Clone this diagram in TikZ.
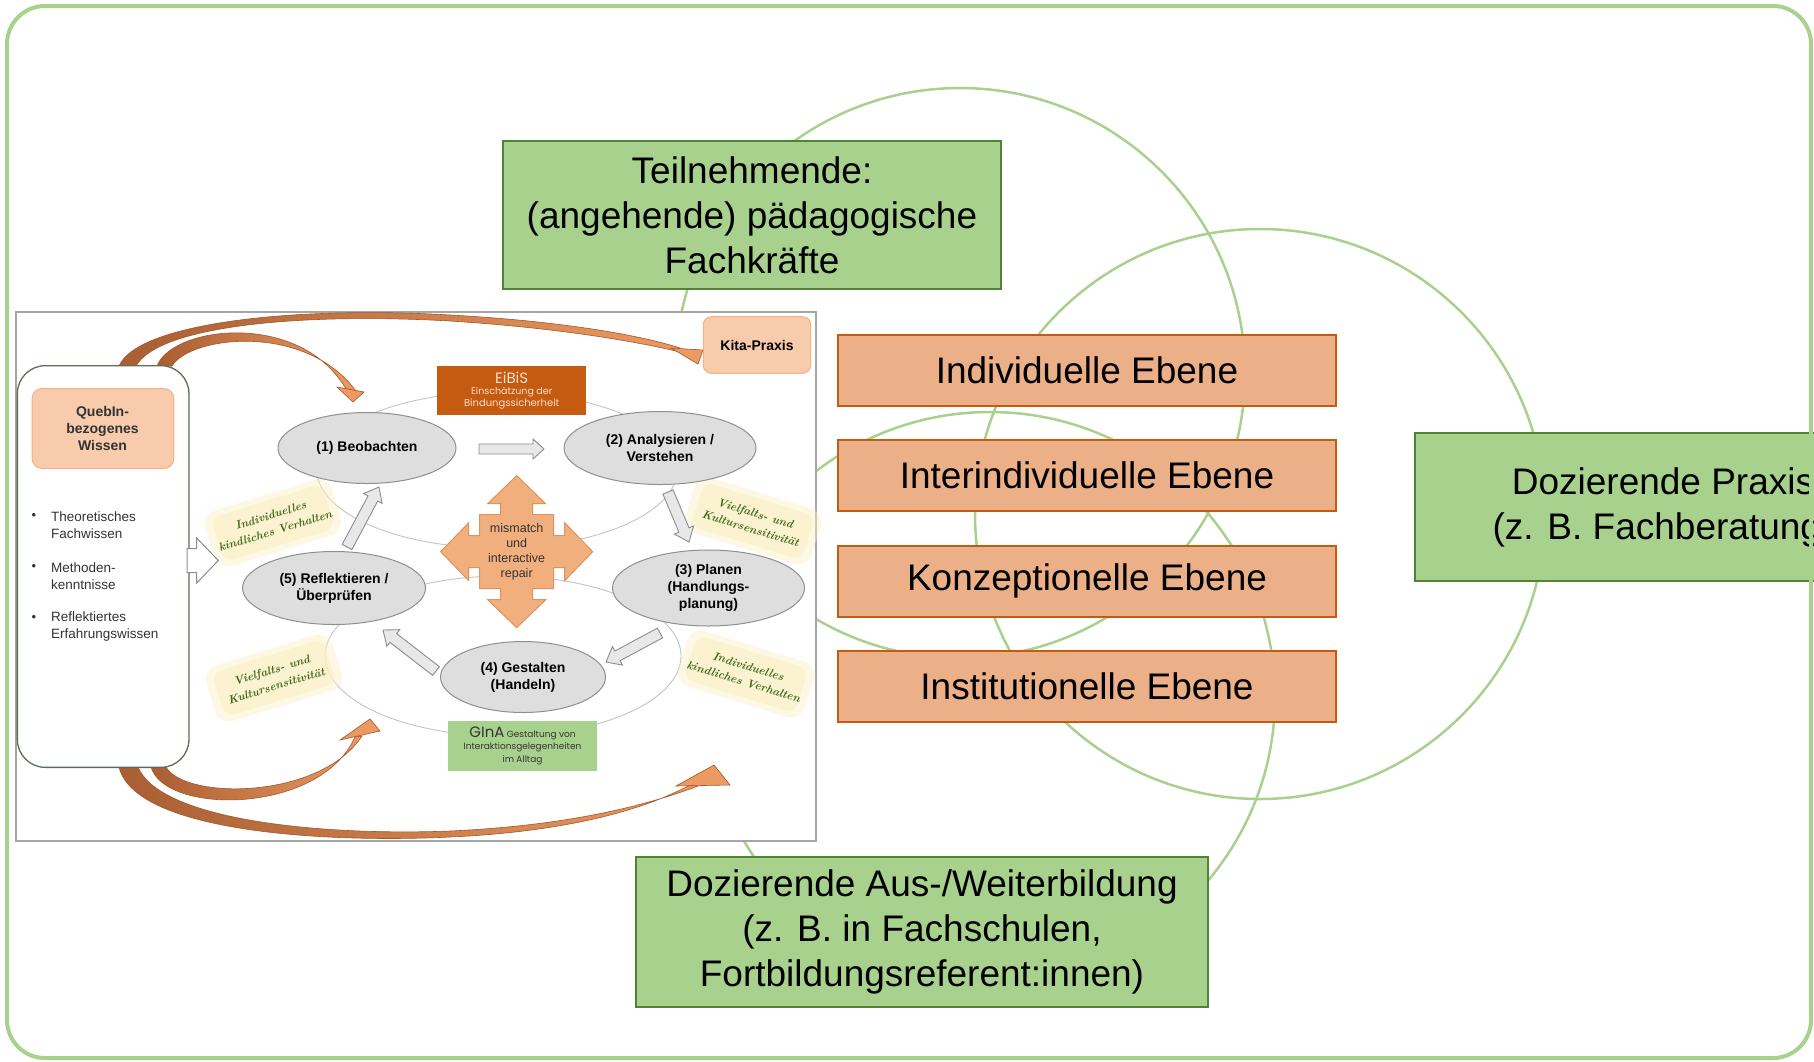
\documentclass[tikz,border=0pt]{standalone}
\usepackage{fontspec}
\newfontfamily\arial{Liberation Sans}
\newfontfamily\geo{Poppins}
\usetikzlibrary{shapes.geometric}
\definecolor{lgreen}{HTML}{A9D18E}
\definecolor{dgreen}{HTML}{548235}
\definecolor{lorange}{HTML}{EBB087}
\definecolor{dorange}{HTML}{C55A11}
\definecolor{peach}{HTML}{F8CBAD}
\definecolor{peachline}{HTML}{F4B183}
\definecolor{crossfill}{HTML}{F2AF7E}
\definecolor{crossline}{HTML}{DE935C}
\definecolor{ellfill}{HTML}{DEDEDE}
\definecolor{ellline}{HTML}{8F8F8F}
\definecolor{arrfill}{HTML}{E8E8E8}
\definecolor{arrline}{HTML}{8C8C8C}
\definecolor{thinline}{HTML}{C4C4C4}
\definecolor{panelline}{HTML}{A6A6A6}
\definecolor{brownA}{HTML}{A95E33}
\definecolor{orangeA}{HTML}{EC9A62}
\definecolor{curveline}{HTML}{A55629}
\definecolor{notetext}{HTML}{3E6B22}
\definecolor{notefill}{HTML}{FBEFC2}
\definecolor{qline}{HTML}{5E6E55}
\definecolor{eibistext}{HTML}{FBE0CC}
\definecolor{txtgray}{HTML}{333333}

\newcommand\blkarrow[8]{%
 \pgfmathsetmacro\blkang{atan2(-(#4-#2),(#3-#1))}%
 \pgfmathsetmacro\blklen{veclen((#3-#1),(#4-#2))}%
 \begin{scope}[shift={(#1,#2)},rotate=\blkang]
 \draw[#8] (0,#5) -- ({\blklen-#7},#5) -- ({\blklen-#7},#6) -- (\blklen,0) -- ({\blklen-#7},-#6) -- ({\blklen-#7},-#5) -- (0,-#5) -- cycle;
 \end{scope}}

\newcommand\noteglow[3]{%
 \begin{scope}[shift={(#1,#2)},rotate=#3]
 \fill[notefill, opacity=0.45, rounded corners=14pt] (-66,-29) rectangle (66,29);
 \fill[notefill, opacity=0.6, rounded corners=10pt] (-58,-23) rectangle (58,23);
 \end{scope}}

\tikzset{
 venn/.style={draw=lgreen, line width=2.5pt},
 gbox/.style={draw=dgreen, line width=2.5pt, fill=lgreen, align=center, inner sep=0pt, font=\arial\fontsize{37}{45}\selectfont},
 obox/.style={draw=dorange, line width=2pt, fill=lorange, minimum width=498pt, minimum height=71pt, inner sep=0pt, font=\arial\fontsize{37}{45}\selectfont},
 ell/.style={ellipse, draw=ellline, fill=ellfill, line width=1pt, inner sep=0pt, align=center, font=\arial\bfseries\fontsize{14}{17}\selectfont},
 grayarr/.style={draw=arrline, fill=arrfill, line width=0.9pt},
 whitearr/.style={draw=arrline, fill=white, line width=1pt},
 bul/.style={inner sep=0pt, font=\arial\fontsize{13}{17}\selectfont, text=txtgray},
 btxt/.style={anchor=west, align=left, inner sep=0pt, font=\arial\fontsize{13.5}{17.3}\selectfont, text=txtgray},
 note/.style={inner sep=0pt, align=center, text=notetext, font=\fontsize{11.5}{16}\selectfont\itshape\bfseries},
 curvearr/.style={left color=brownA, right color=orangeA, draw=curveline, line width=0.6pt},
 curvehead/.style={fill=orangeA, draw=curveline, line width=0.6pt},
}

\begin{document}
\begin{tikzpicture}[x=1pt,y=-1pt]
\useasboundingbox (0,0) rectangle (1814,1061);
\clip (0,0) rectangle (1814,1061);

% Venn circles
\draw[venn] (960,373) circle[radius=285];
\draw[venn] (1260,514) circle[radius=285];
\draw[venn] (990,697) circle[radius=285];

% embedded panel
\node[draw=panelline, line width=1.8pt, fill=white, minimum width=800pt, minimum height=529pt, inner sep=0pt, anchor=north west] (panel) at (15,311) {};

% thin background ellipses
\draw[thinline, line width=0.9pt] (497,470) ellipse [x radius=180, y radius=78];
\draw[thinline, line width=0.9pt] (503,656) ellipse [x radius=178, y radius=80];

% orange curved arrows
\shadedraw[curvearr] (119,366) .. controls (138,322) and (300,306) .. (450,315) .. controls (560,321) and (640,335) .. (680,348)
  -- (684,353) .. controls (640,342) and (560,328) .. (450,321) .. controls (310,313) and (160,324) .. (136,366) -- cycle;
\filldraw[curvehead] (671,348) -- (703,350) -- (698,364) -- cycle;

\shadedraw[curvearr] (157,366) .. controls (172,326) and (300,310) .. (346,389)
  -- (356,391) .. controls (305,322) and (190,336) .. (172,366) -- cycle;
\filldraw[curvehead] (337,387) -- (364,392) -- (353,402) -- cycle;

\shadedraw[curvearr] (119,767) .. controls (135,833) and (330,843) .. (450,837) .. controls (560,832) and (640,812) .. (690,785)
  -- (698,786) .. controls (640,808) and (560,826) .. (450,831) .. controls (320,836) and (160,820) .. (138,767) -- cycle;
\filldraw[curvehead] (676,786) -- (730,785) -- (714,765) -- cycle;

\shadedraw[curvearr] (151,767) .. controls (165,815) and (320,815) .. (355,737)
  -- (362,736) .. controls (320,800) and (185,800) .. (166,767) -- cycle;
\filldraw[curvehead] (340,740) -- (380,731) -- (370,719) -- cycle;

% sticky notes
\noteglow{273}{523}{17}
\node[note, rotate=17] (n1) at (273,523) {Individuelles\\kindliches Verhalten};
\noteglow{753}{521}{-17}
\node[note, rotate=-17] (n2) at (753,521) {Vielfalts- und\\Kultursensitivität};
\noteglow{274}{678}{17}
\node[note, rotate=17] (n3) at (274,678) {Vielfalts- und\\Kultursensitivität};
\noteglow{746}{674}{-17}
\node[note, rotate=-17] (n4) at (746,674) {Individuelles\\kindliches Verhalten};

% QuebIn box
\node[draw=qline, line width=1.3pt, fill=white, rounded corners=28pt, minimum width=171.6pt, minimum height=401.7pt, inner sep=0pt, anchor=north west] (qouter) at (16.7,365) {};
\node[fill=peach, draw=peachline, line width=1pt, rounded corners=10pt, minimum width=141.6pt, minimum height=80pt, inner sep=0pt, anchor=north west] (qinner) at (31.7,388) {};
\node[align=center, inner sep=0pt, font=\arial\bfseries\fontsize{14}{17}\selectfont, text=txtgray] (qtext) at (102.5,428.5) {QuebIn-\\bezogenes\\Wissen};
\node[bul] (b1) at (34,516.7) {•};
\node[btxt] (t1) at (51,525.3) {Theoretisches\\Fachwissen};
\node[bul] (b2) at (34,567.7) {•};
\node[btxt] (t2) at (51,576.3) {Methoden-\\kenntnisse};
\node[bul] (b3) at (34,618) {•};
\node[btxt] (t3) at (51,626.8) {Reflektiertes\\Erfahrungswissen};
\blkarrow{187}{560.5}{218.3}{560.5}{12}{22.5}{21.6}{whitearr}

% cross arrow
\begin{scope}[shift={(516.7,551.7)}]
\draw[fill=crossfill, draw=crossline, line width=1pt] (0,-76) -- (29,-48) -- (16,-48) -- (16,-37) -- (37,-37) -- (37,-16) -- (48,-16) -- (48,-29) -- (76,0) -- (48,29) -- (48,16) -- (37,16) -- (37,37) -- (16,37) -- (16,48) -- (29,48) -- (0,76) -- (-29,48) -- (-16,48) -- (-16,37) -- (-37,37) -- (-37,16) -- (-48,16) -- (-48,29) -- (-76,0) -- (-48,-29) -- (-48,-16) -- (-37,-16) -- (-37,-37) -- (-16,-37) -- (-16,-48) -- (-29,-48) -- cycle;
\end{scope}
\node[align=center, inner sep=0pt, font=\arial\fontsize{12.5}{15}\selectfont, text=txtgray] (mis) at (516.7,551.7) {mismatch\\und\\interactive\\repair};

% ellipses
\node[ell, minimum width=178pt, minimum height=71pt] (e1) at (367,448) {(1) Beobachten};
\node[ell, minimum width=192pt, minimum height=73pt] (e2) at (660,448) {(2) Analysieren /\\Verstehen};
\node[ell, minimum width=192pt, minimum height=76pt] (e3) at (708.5,588) {(3) Planen\\(Handlungs-\\planung)};
\node[ell, minimum width=165pt, minimum height=71pt] (e4) at (523,677) {(4) Gestalten\\(Handeln)};
\node[ell, minimum width=183pt, minimum height=73pt] (e5) at (334,588) {(5) Reflektieren /\\Überprüfen};

% gray block arrows
\blkarrow{479}{449}{544}{449}{5}{10}{11}{grayarr}
\blkarrow{668}{492}{689}{542}{5.5}{10.5}{13}{grayarr}
\blkarrow{660}{633}{606}{662}{5.5}{10.5}{13}{grayarr}
\blkarrow{436}{671}{383}{630}{5.5}{10.5}{13}{grayarr}
\blkarrow{347}{547}{379}{487}{5.5}{10.5}{13}{grayarr}

% EiBiS, GInA, Kita
\node[fill=dorange, minimum width=148.7pt, minimum height=49.3pt, inner sep=0pt, align=center, text=eibistext, font=\geo] (eibis) at (511.7,390.3) {\fontsize{15}{15}\selectfont EiBiS\\[-1pt]\fontsize{9.5}{12.3}\selectfont Einschätzung der\\Bindungssicherheit};
\node[fill=lgreen, minimum width=149.6pt, minimum height=49.7pt, inner sep=0pt, align=center, text=txtgray, font=\geo\fontsize{9}{12.5}\selectfont] (gina) at (522.5,745.8) {{\fontsize{15}{15}\selectfont GInA} Gestaltung von\\Interaktionsgelegenheiten\\im Alltag};
\node[fill=peach, draw=peachline, line width=1pt, rounded corners=8pt, minimum width=107.4pt, minimum height=56.6pt, inner sep=0pt, font=\arial\bfseries\fontsize{14}{17}\selectfont] (kita) at (757,345) {Kita-Praxis};

% main boxes
\node[gbox, minimum width=498pt, minimum height=148pt] (teil) at (752,215) {Teilnehmende:\\(angehende) pädagogische\\Fachkräfte};
\node[obox] (ind) at (1087,370) {Individuelle Ebene};
\node[obox] (inter) at (1087,475) {Interindividuelle Ebene};
\node[obox] (konz) at (1087,581) {Konzeptionelle Ebene};
\node[obox] (inst) at (1087,686.5) {Institutionelle Ebene};
\node[gbox, minimum width=496pt, minimum height=148pt] (praxis) at (1663,507) {Dozierende Praxis\\(z. B. Fachberatung)};
\node[gbox, minimum width=572pt, minimum height=150pt] (aus) at (922,932) {Dozierende Aus-/Weiterbildung\\(z. B. in Fachschulen,\\Fortbildungsreferent:innen)};

% outer frame
\draw[lgreen, line width=4pt, rounded corners=38pt] (7,6) rectangle (1811,1058);
\end{tikzpicture}
\end{document}
